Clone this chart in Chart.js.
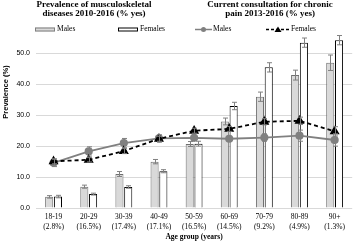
<!DOCTYPE html>
<html>
<head>
<meta charset="utf-8">
<script src="https://cdn.jsdelivr.net/npm/chart.js@4"></script>
<style>
  html, body { margin: 0; padding: 0; background: #fff; }
  #wrap { position: relative; width: 358px; height: 242px; }
</style>
</head>
<body>
<div id="wrap"><canvas id="chart"></canvas></div>
<script>
const ageGroups = [
    ['18-19', '(2.8%)'], ['20-29', '(16.5%)'], ['30-39', '(17.4%)'],
    ['40-49', '(17.1%)'], ['50-59', '(16.5%)'], ['60-69', '(14.5%)'],
    ['70-79', '(9.2%)'], ['80-89', '(4.9%)'], ['90+', '(1.3%)']
];
const yTicks = [0, 10, 20, 30, 40, 50];

// prevalence of musculoskeletal diseases (bars)
const prevMales = [3.6, 6.9, 11.0, 15.0, 20.7, 28.0, 36.0, 43.0, 47.0];
const prevMalesErr = [0.4, 0.5, 0.8, 0.7, 0.8, 1.1, 1.5, 1.6, 2.5];
const prevFemales = [3.7, 4.5, 6.8, 11.9, 20.8, 33.0, 45.5, 53.5, 54.3];
const prevFemalesErr = [0.4, 0.3, 0.4, 0.5, 0.8, 1.2, 1.5, 1.5, 1.5];

// current consultation for chronic pain (lines)
const consultMales = [14.6, 18.3, 21.0, 22.5, 22.7, 22.4, 22.8, 23.4, 22.0];
const consultMalesErr = [1.2, 1.5, 1.5, 1.2, 0.8, 0.8, 1.2, 1.8, 2.0];
const consultFemales = [15.1, 15.6, 18.4, 22.4, 25.0, 25.6, 27.9, 28.2, 24.8];
const consultFemalesErr = [0.8, 0.7, 0.8, 0.8, 0.8, 0.8, 1.0, 1.2, 1.5];

const serif = '"Liberation Serif", "Times New Roman", serif';
const sans = '"Liberation Sans", Arial, sans-serif';

// error bars drawn through the scales
const errorBars = {
    id: 'errorBars',
    afterDatasetsDraw(chart) {
        const ctx = chart.ctx;
        const y = chart.scales.y;
        chart.data.datasets.forEach((ds, i) => {
            if (!ds.errors) return;
            const meta = chart.getDatasetMeta(i);
            ctx.save();
            ctx.strokeStyle = '#808080';
            ctx.lineWidth = 1;
            meta.data.forEach((el, j) => {
                const v = ds.data[j], e = ds.errors[j];
                const x = Math.round(el.x) + 0.5;
                const top = y.getPixelForValue(v + e);
                const bot = y.getPixelForValue(v - e);
                ctx.beginPath();
                ctx.moveTo(x, top); ctx.lineTo(x, bot);
                ctx.moveTo(x - 2.5, top); ctx.lineTo(x + 2.5, top);
                ctx.moveTo(x - 2.5, bot); ctx.lineTo(x + 2.5, bot);
                ctx.stroke();
            });
            ctx.restore();
        });
    }
};

// two titles, split legend and y title
const annotations = {
    id: 'annotations',
    afterDraw(chart) {
        const ctx = chart.ctx;
        ctx.save();
        ctx.fillStyle = '#000';
        ctx.textBaseline = 'middle';
        ctx.textAlign = 'center';
        ctx.font = 'bold 9px ' + serif;
        ctx.fillText('Prevalence of musculoskeletal', 94, 4.5);
        ctx.fillText('diseases 2010-2016 (% yes)', 94, 14);
        ctx.fillText('Current consultation for chronic', 270, 4.5);
        ctx.fillText('pain 2013-2016 (% yes)', 270, 14);

        ctx.font = '7.5px ' + serif;
        ctx.textAlign = 'left';
        const ly = 29.5;
        // bar legend
        ctx.fillStyle = '#d9d9d9';
        ctx.fillRect(35, ly - 2, 20, 4);
        ctx.strokeStyle = '#7f7f7f';
        ctx.strokeRect(35.5, ly - 1.5, 19, 3);
        ctx.fillStyle = '#000';
        ctx.fillText('Males', 57, ly);
        ctx.fillStyle = '#fff';
        ctx.fillRect(118, ly - 2, 20, 4);
        ctx.strokeStyle = '#000';
        ctx.strokeRect(118.5, ly - 1.5, 19, 3);
        ctx.fillStyle = '#000';
        ctx.fillText('Females', 140, ly);
        // line legend
        ctx.strokeStyle = '#808080';
        ctx.lineWidth = 1.5;
        ctx.beginPath(); ctx.moveTo(195, ly); ctx.lineTo(212, ly); ctx.stroke();
        ctx.fillStyle = '#808080';
        ctx.beginPath(); ctx.arc(203.5, ly, 2.5, 0, Math.PI * 2); ctx.fill();
        ctx.fillStyle = '#000';
        ctx.fillText('Males', 213, ly);
        ctx.strokeStyle = '#000';
        ctx.setLineDash([3, 2]);
        ctx.beginPath(); ctx.moveTo(266, ly); ctx.lineTo(290, ly); ctx.stroke();
        ctx.setLineDash([]);
        ctx.beginPath();
        ctx.moveTo(278, ly - 3); ctx.lineTo(281.5, ly + 2.5); ctx.lineTo(274.5, ly + 2.5);
        ctx.closePath(); ctx.fill();
        ctx.fillText('Females', 291, ly);

        // y axis title
        ctx.translate(6, 92);
        ctx.rotate(-Math.PI / 2);
        ctx.textAlign = 'center';
        ctx.font = 'bold 7.5px ' + sans;
        ctx.fillText('Prevalence (%)', 0, 0);
        ctx.restore();
    }
};

new Chart(document.getElementById('chart'), {
    type: 'bar',
    data: {
        labels: ageGroups,
        datasets: [
            {
                type: 'line', label: 'Males', data: consultMales, errors: consultMalesErr,
                borderColor: '#808080', backgroundColor: '#808080', borderWidth: 1.8,
                pointStyle: 'circle', pointRadius: 3.2, order: 1
            },
            {
                type: 'line', label: 'Females', data: consultFemales, errors: consultFemalesErr,
                borderColor: '#000', backgroundColor: '#000', borderWidth: 1.8, borderDash: [4, 3],
                pointStyle: 'triangle', pointRadius: 4, order: 0
            },
            {
                label: 'Males', data: prevMales, errors: prevMalesErr,
                backgroundColor: '#d9d9d9', borderColor: '#6f6f6f', borderWidth: 1,
                categoryPercentage: 0.5, barPercentage: 0.92, order: 2
            },
            {
                label: 'Females', data: prevFemales, errors: prevFemalesErr,
                backgroundColor: '#fff', borderColor: '#000', borderWidth: 1,
                categoryPercentage: 0.5, barPercentage: 0.92, order: 3
            }
        ]
    },
    options: {
        animation: false,
        responsive: true,
        maintainAspectRatio: false,
        layout: { padding: { top: 38, left: 14, right: 2, bottom: 0 } },
        plugins: { legend: { display: false }, title: { display: false }, tooltip: { enabled: false } },
        scales: {
            x: {
                afterFit: s => { s.height = 34; },
                grid: { display: false, drawTicks: false, tickLength: 0 },
                border: { display: false },
                ticks: {
                    color: '#000', maxRotation: 0, autoSkip: false, padding: 4,
                    font: { family: serif, size: 7.5, lineHeight: 1.3 }
                },
                title: {
                    display: true, text: 'Age group (years)', color: '#000',
                    font: { family: serif, size: 7.5, weight: 'bold' }, padding: { top: 0, bottom: 0 }
                }
            },
            y: {
                min: 0, max: 55,
                afterBuildTicks: s => { s.ticks = yTicks.map(v => ({ value: v })); },
                afterFit: s => { s.width = 22; },
                grid: { color: '#d9d9d9', drawTicks: false },
                border: { display: false },
                ticks: {
                    color: '#000', padding: 6,
                    font: { family: sans, size: 7 },
                    callback: v => Number(v).toFixed(1)
                }
            }
        }
    },
    plugins: [errorBars, annotations]
});
</script>
</body>
</html>
